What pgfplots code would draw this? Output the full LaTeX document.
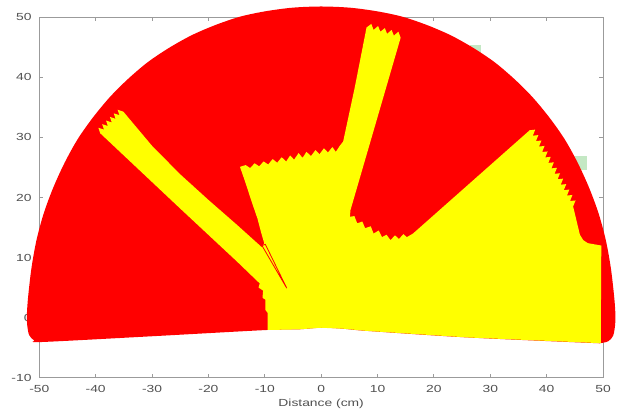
\documentclass[border=0pt]{standalone}
\usepackage{pgfplots}
\pgfplotsset{compat=1.18}
\usepackage{fontspec}
\setmainfont{Liberation Sans}
\newfontfamily\labfont[FakeStretch=1.35]{Liberation Sans}
\definecolor{axgray}{RGB}{155,155,155}
\definecolor{txtgray}{RGB}{80,80,80}
\definecolor{mred}{RGB}{255,0,0}
\definecolor{myel}{RGB}{255,255,0}
\definecolor{lgreen}{RGB}{196,232,196}
\begin{document}
\begin{tikzpicture}
\useasboundingbox (-39.3bp,-31.3bp) rectangle (578.7bp,377.7bp);
\begin{axis}[
  at={(0,0)}, anchor=south west,
  scale only axis, width=563.7bp, height=360.4bp,
  xmin=-50, xmax=50, ymin=-10, ymax=50,
  xtick={-50,-40,...,50},
  xticklabels={-50,-40,-30,-20,-10,0,10,20,30,40,50},
  ytick={-10,0,...,50},
  yticklabels={-10,0,10,20,30,40,50},
  tick align=inside, major tick length=4bp,
  axis line style={axgray, line width=0.8bp},
  tick style={axgray, line width=0.8bp},
  tick label style={font=\labfont\fontsize{10.3}{12}\selectfont, text=txtgray},
  xticklabel style={anchor=base, yshift=-14.8bp},
  yticklabel style={anchor=east, xshift=-4.3bp},
  xlabel={Distance (cm)},
  xlabel style={at={(axis description cs:0.5,0)}, anchor=base, yshift=-29bp,
    font=\labfont\fontsize{10.3}{12}\selectfont, text=txtgray},
]
\addplot[fill=lgreen, draw=none] coordinates {(26.4,43.7) (28.3,43.7) (28.3,45.4) (26.4,45.4)};
\addplot[fill=lgreen, draw=none] coordinates {(43,24.6) (47.1,24.6) (47.1,26.9) (43,26.9)};
\end{axis}
\begin{axis}[
  at={(0,0)}, anchor=south west,
  scale only axis, width=563.7bp, height=360.4bp,
  xmin=-50, xmax=50, ymin=-10, ymax=50,
  hide axis, clip=false,
]
% red sector (outer boundary)
\addplot[fill=mred, draw=none, smooth, tension=0.5] coordinates {
(49.4,-4.27) (50.9,-3.95) (51.8,-3.0) (52.15,-1.2) (52.2,0.5) (52.0,3.3) (51.4,8.2)
(50.5,12.9) (49.2,17.4) (47.5,21.7) (45.5,25.8) (43.2,29.7) (40.5,33.3) (37.5,36.7)
(34.3,39.7) (30.8,42.5) (27.0,44.9) (23.0,47.0) (18.8,48.7) (14.4,50.1) (9.9,51.0)
(5.1,51.6) (0,51.8) (-5.1,51.6) (-9.9,51.0) (-14.4,50.1) (-18.8,48.7) (-23.0,47.0)
(-27.0,44.9) (-30.8,42.5) (-34.3,39.7) (-37.5,36.7) (-40.5,33.3) (-43.2,29.7)
(-45.5,25.8) (-47.5,21.7) (-49.2,17.4) (-50.5,12.9) (-51.4,8.2) (-52.0,3.3)
(-52.2,0.5) (-52.15,-1.2) (-51.8,-2.9) (-50.9,-3.8) (-49.6,-4.06) (-30,-3.1)
(-9.7,-2.06) (-4,-1.95) (0,-1.68) (4,-1.85) (8,-2.2) (26,-3.3) (49.4,-4.27)
};
% yellow free region
\addplot[fill=myel, draw=none] coordinates {
(-9.5,-2.06) (-4,-1.95) (0,-1.68) (4,-1.85) (8,-2.2) (26,-3.3) (49.6,-4.25)
(49.7,12.0) (48.5,12.2) (47.3,12.4) (46.5,12.9) (45.9,13.8) (44.7,18.5)
(45.13,19.51) (44.15,19.41) (44.58,20.42) (43.6,20.32) (44.03,21.32) (43.05,21.22)
(43.48,22.23) (42.5,22.13) (42.93,23.14) (41.95,23.04) (42.38,24.04) (41.4,23.94)
(41.83,24.95) (40.85,24.85) (41.28,25.86) (40.3,25.76) (40.73,26.77) (39.75,26.67)
(40.18,27.67) (39.2,27.57) (39.63,28.58) (38.65,28.48) (39.08,29.49) (38.10,29.39)
(38.53,30.39) (37.55,30.29) (37.98,31.3) (37.0,31.2)
(16.3,14.0) (15.2,13.4) (14.6,13.9) (13.8,13.1) (13.1,13.7) (12.3,12.9) (11.6,13.8)
(10.8,13.4) (10.2,14.5) (9.3,14.0) (8.8,15.2) (7.8,14.9) (7.3,16.0) (6.4,15.7)
(5.9,16.9) (5.1,16.8) (5.2,17.9)
(9.7,32.4) (14.1,46.6)
(13.7,47.6) (12.9,46.95) (12.5,47.9) (11.7,47.25) (11.3,48.2) (10.5,47.6)
(10.1,48.55) (9.3,47.9) (8.9,48.9) (8.05,48.3)
(6.0,38.5) (3.9,29.3)
(3.3,28.6) (2.6,27.6) (2.0,28.4) (1.2,27.5) (0.5,28.2) (-0.3,27.2) (-1.0,27.9)
(-1.8,26.9) (-2.6,27.6) (-3.3,26.6) (-4.0,27.4) (-4.8,26.3) (-5.5,27.0) (-6.2,26.0)
(-7.0,26.7) (-7.8,25.8) (-8.6,26.4) (-9.4,25.5) (-10.2,26.0) (-11.0,25.2)
(-11.8,25.7) (-12.6,24.9) (-13.4,25.4) (-14.4,25.1)
(-13.4,22.4) (-12.4,19.5) (-11.3,16.5) (-10.6,14.0) (-10.1,12.4)
(-10.5,11.7)
(-15,15.5) (-20,19.6) (-25.05,23.9) (-30,28.6) (-35.1,34.3)
(-36.1,34.61) (-35.78,33.7) (-36.79,34.01) (-36.47,33.1) (-37.47,33.41) (-37.15,32.5)
(-38.15,32.81) (-37.83,31.9) (-38.84,32.21) (-38.52,31.3) (-39.52,31.61) (-39.2,30.7)
(-25.05,18.2) (-15,9.4) (-10.9,5.7)
(-11.1,5.0) (-10.3,4.5) (-10.4,3.3) (-9.9,3.0) (-9.9,1.3) (-9.5,0.8)
};
% thin red finger
\addplot[draw=mred, line width=0.8bp, fill=myel] coordinates {(-10.5,12.0) (-6.1,4.9) (-9.9,12.2)} -- cycle;
\end{axis}
\end{tikzpicture}
\end{document}
